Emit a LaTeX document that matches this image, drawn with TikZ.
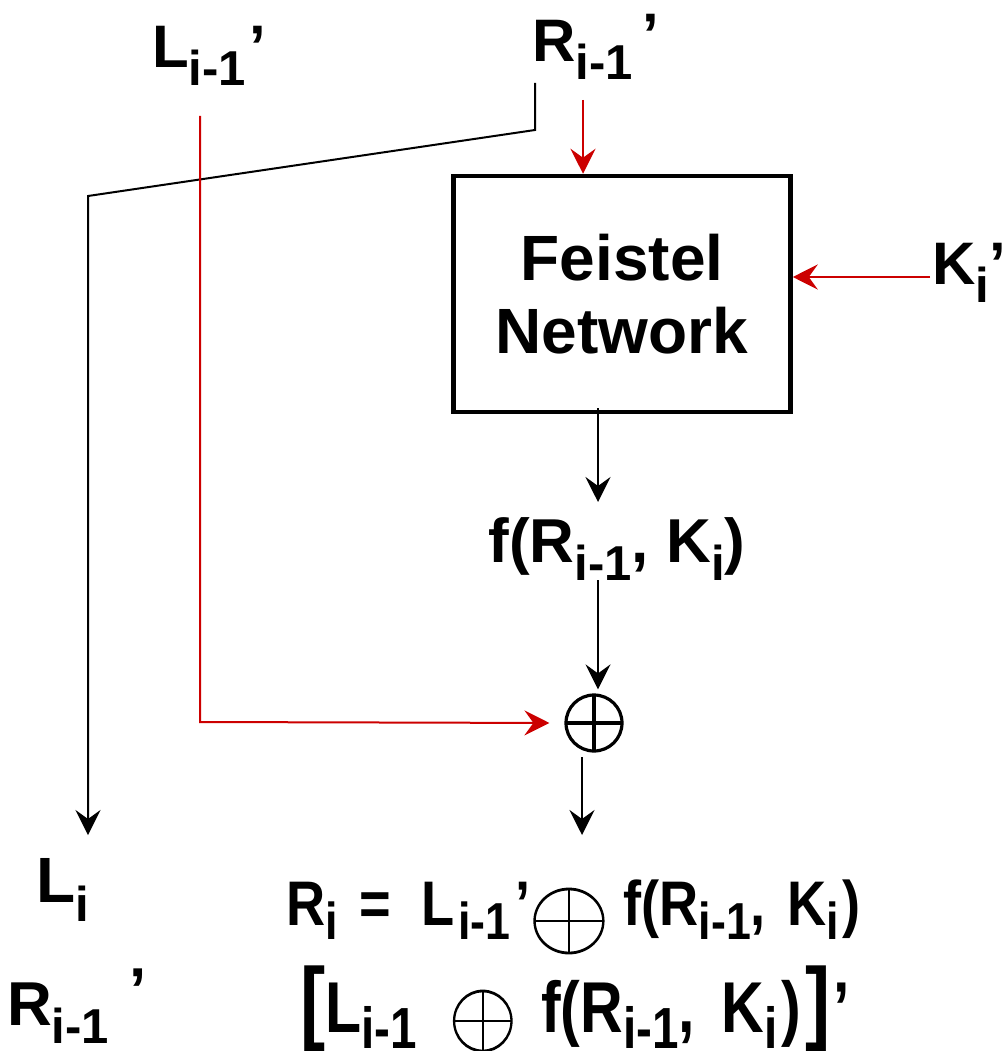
\documentclass[tikz,border=0pt]{standalone}
\usepackage{fontspec}
\setmainfont{Liberation Sans}
\usetikzlibrary{arrows.meta}
\definecolor{myred}{RGB}{204,0,0}
\newcommand{\mysub}[1]{\raisebox{-0.3em}{\fontsize{49}{49}\selectfont #1}}
\newcommand{\eqsubA}[1]{\raisebox{-14pt}{\fontsize{52}{52}\selectfont #1}}
\newcommand{\eqsubB}[1]{\raisebox{-16pt}{\fontsize{58}{58}\selectfont #1}}
% ellipse-shaped oplus: #1 = x radius, #2 = y radius, #3 = baseline offset
\newcommand{\myoplus}[3]{\tikz[baseline={(0pt,#3)}]{\draw[line width=2.8pt] (0pt,0pt) ellipse [x radius=#1, y radius=#2]; \draw[line width=2.8pt] (-#1,0pt) -- (#1,0pt) (0pt,-#2) -- (0pt,#2);}}
\newcommand{\bigbr}[1]{{\fontsize{92}{92}\selectfont #1}}
\begin{document}
\begin{tikzpicture}[x=1pt,y=-1pt,
  lbl/.style={font=\bfseries\fontsize{60}{72}\selectfont, inner sep=0pt},
  eqA/.style={font=\bfseries\fontsize{63}{70}\selectfont, inner sep=0pt, xscale=0.86},
  eqB/.style={font=\bfseries\fontsize{72}{80}\selectfont, inner sep=0pt, xscale=0.82},
  tip/.style={-{Stealth[length=25pt,width=25pt,inset=9pt]}},
  blk/.style={draw=black, line width=2pt, tip},
  redl/.style={draw=myred, line width=2pt, tip},
  boxst/.style={draw=black, line width=4.5pt, minimum width=337pt, minimum height=236pt, align=center, font=\bfseries\fontsize{64}{73}\selectfont},
  oplusst/.style={draw=black, circle, line width=3.2pt, minimum size=56pt, inner sep=0pt,
     path picture={\draw[line width=4pt] (path picture bounding box.north) -- (path picture bounding box.south)
       (path picture bounding box.west) -- (path picture bounding box.east);}}
]
\useasboundingbox (0,0) rectangle (1007,1051);
% labels
\node[lbl, anchor=base west] (Lin) at (152,68) {L\mysub{i-1}\kern3pt’};
\node[lbl, anchor=base west] (Rin) at (532,62) {R\mysub{i-1}\kern10pt\raisebox{6pt}{’}};
\node[lbl, anchor=base west] (Kin) at (932,284) {K\mysub{i}’};
\node[boxst] (F) at (622,294) {Feistel\\Network};
\node[lbl, font=\bfseries\fontsize{62}{72}\selectfont, anchor=base] (fo) at (617,562) {f(R\mysub{i-1}, K\mysub{i})};
\node[oplusst] (ox) at (594,723) {};
\node[lbl, font=\bfseries\fontsize{64}{72}\selectfont, anchor=base west] (Li) at (36,902) {L\mysub{i}};
\node[lbl, font=\bfseries\fontsize{62}{72}\selectfont, anchor=base west] (Ri1) at (7,1025) {R\mysub{i-1}\kern20pt\raisebox{14pt}{’}};
\node[eqA, anchor=base west] (Ri) at (286,925) {R\eqsubA{i}\hspace{25pt}=\hspace{36pt}L\kern4pt\eqsubA{i-1}\kern6pt’\kern3pt\myoplus{40pt}{32pt}{-4pt}\hspace{22pt}f(R\eqsubA{i-1}, \kern8pt K\eqsubA{i}\kern4pt)};
\node[eqB, anchor=base west] (Lx) at (300,1032) {\bigbr{[}L\eqsubB{i-1}\hspace{44pt}\myoplus{35pt}{30pt}{-11pt}\hspace{35pt}f(R\eqsubB{i-1}, \kern12pt K\eqsubB{i}\kern5pt)\kern5pt\bigbr{]}\kern4pt’};
% coordinates
\coordinate (a1) at (535,83);
\coordinate (a2) at (535,130);
\coordinate (a3) at (88,196);
\coordinate (a4) at (88,835);
\coordinate (r1) at (200,116);
\coordinate (r2) at (200,722);
\coordinate (r3) at (583,100);
\coordinate (k1) at (930,277);
\coordinate (f1) at (598,408);
\coordinate (f2) at (598,502);
\coordinate (g1) at (598,580);
\coordinate (o2) at (582,757);
\coordinate (o3) at (582,835);
% connectors
\draw[blk] (a1) -- (a2) -- (a3) -- (a4);
\draw[redl, shorten >=15pt] (r1) -- (r2) -- (ox.west);
\draw[redl] (r3) -- (F.north -| r3);
\draw[redl] (k1) -- (F.east |- k1);
\draw[blk] (f1) -- (f2);
\draw[blk, shorten >=4pt] (g1) -- (ox.north -| g1);
\draw[blk] (o2) -- (o3);
\end{tikzpicture}
\end{document}
